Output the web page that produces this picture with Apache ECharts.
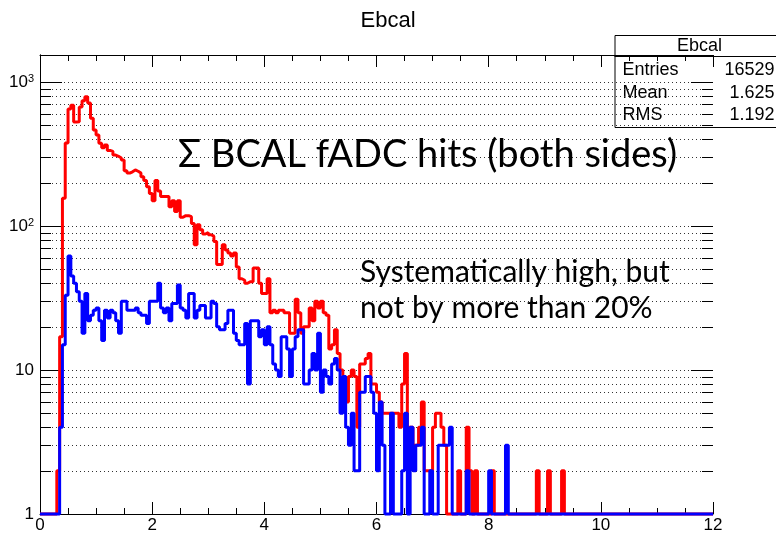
<!DOCTYPE html>
<html>
<head>
<meta charset="utf-8">
<script src="https://cdn.jsdelivr.net/npm/echarts@6/dist/echarts.min.js"></script>
<style>
  html, body { margin: 0; padding: 0; background: #fff; }
  #chart { width: 776px; height: 534px; }
</style>
</head>
<body>
<div id="chart"></div>
<script>
// histogram binning (0 .. 12, 240 bins); first filled bin starts at 0.30
var binStart = 0.30;
var binWidth = 0.05;
var xMax = 12;

// counts per bin, starting at binStart (red = data, blue = simulation)
var redCounts = [
  2, 17, 156, 377, 650, 690, 527, 530, 670, 740,
  790, 715, 560, 464, 428, 375, 350, 365, 335, 330,
  311, 305, 297, 287, 242, 233, 238, 245, 240, 233,
  220, 207, 187, 168, 150, 207, 175, 160, 160, 160,
  136, 150, 126, 150, 115, 118, 118, 116, 104, 74,
  102, 94, 88, 90, 87, 85, 78, 54, 54, 74,
  68, 65, 62, 65, 52, 43, 42, 40, 41, 41,
  51, 51, 40, 34, 34, 43, 25, 26, 25, 26,
  26, 25, 25, 18, 18, 31, 25, 18, 20, 20,
  27, 22, 30, 27, 30, 25, 24, 14, 15, 19,
  13, 10, 9, 6, 9, 10, 9, 4, 11, 11,
  12, 13, 8, 8, 7, 6, 5, 5, 5, 5,
  5, 5, 4, 8, 13, 4, 4, 3, 3, 4,
  6, 2, 2, 2, 4, 5, 5, 4, 3, 1,
  1, 0, 1, 2, 1, 1, 4, 2, 0, 2,
  1, 0, 1, 0, 1, 2, 0, 1, 0, 0,
  1, 0, 0, 1, 0, 0, 0, 1, 0, 0,
  0, 2, 0, 0, 1, 2, 0, 0, 0, 1,
  2
];
var blueCounts = [
  0, 4, 15, 33, 62, 45, 40, 35, 30, 18,
  34, 22, 24, 26, 27, 22, 16, 26, 23, 26,
  25, 22, 18, 30, 30, 26, 26, 26, 27, 25,
  24, 24, 21, 30, 30, 30, 40, 27, 25, 27,
  22, 29, 29, 39, 27, 26, 23, 34, 34, 23,
  26, 28, 28, 23, 23, 30, 29, 20, 19, 19,
  21, 26, 26, 18, 16, 15, 15, 21, 8, 22,
  22, 22, 17, 19, 15, 20, 15, 11, 10, 9,
  17, 17, 14, 9, 14, 17, 19, 19, 8, 8,
  10, 13, 10, 18, 7, 10, 9, 8, 11, 12,
  10, 5, 9, 4, 3, 5, 2, 2, 7, 7,
  9, 9, 7, 5, 2, 6, 3, 1, 0, 5,
  1, 0, 1, 2, 5, 0, 4, 2, 3, 3,
  4, 1, 0, 2, 1, 0, 3, 3, 3, 3,
  4, 0, 1, 0, 1, 0, 2, 0, 0, 0,
  0, 0, 0, 0, 2, 0, 0, 0, 0, 0,
  3
];

var xTicks = { min: 0, max: 12, interval: 2 };
var yDecades = [1, 10, 100, 1000];
var yMin = 1;
var yMax = 1540;

var statsTitle = 'Ebcal';
var statsRows = [
  ['Entries', '16529'],
  ['Mean', '1.625'],
  ['RMS', '1.192']
];

var noteMain = '\u03A3 BCAL fADC hits (both sides)';
var noteLines = ['Systematically high, but', 'not by more than 20%'];

// step points: left edge of each bin, empty bins sit on the frame bottom
function buildSteps(counts) {
  var pts = [[0, yMin]];
  for (var i = 0; i < counts.length; i++) {
    pts.push([+(binStart + i * binWidth).toFixed(3), Math.max(counts[i], yMin)]);
  }
  pts.push([+(binStart + counts.length * binWidth).toFixed(3), yMin]);
  pts.push([xMax, yMin]);
  return pts;
}

// dotted grid lines + frame ticks at 2..9 x 10^n
var gridValues = [];
yDecades.forEach(function (d) {
  for (var m = 1; m <= 9; m++) {
    var v = m * d;
    if (v > yMin && v <= yMax) gridValues.push([0, v]);
  }
});

function isPow10(v) {
  var e = Math.log10(v);
  return Math.abs(e - Math.round(e)) < 1e-6;
}

var font = '"Liberation Sans", Arial, sans-serif';
var noteFont = 'Lato, "Open Sans", "DejaVu Sans", sans-serif';

var chart = echarts.init(document.getElementById('chart'), null, { renderer: 'canvas' });

var xAxisBase = {
  type: 'value',
  min: xTicks.min,
  max: xTicks.max,
  interval: xTicks.interval,
  axisLine: { show: true, onZero: false, lineStyle: { color: '#000', width: 1 } },
  axisTick: { show: true, inside: true, length: 12, lineStyle: { color: '#000', width: 1 } },
  minorTick: { show: true, splitNumber: 4, length: 6, lineStyle: { color: '#000', width: 1 } },
  splitLine: { show: false },
  minorSplitLine: { show: false }
};

var yAxisBase = {
  type: 'log',
  logBase: 10,
  min: yMin,
  max: yMax,
  interval: 1,
  axisLine: { show: true, lineStyle: { color: '#000', width: 1 } },
  axisTick: { show: false },
  splitLine: { show: false }
};

var option = {
  animation: false,
  backgroundColor: '#fff',
  title: {
    text: 'Ebcal',
    left: 'center',
    top: 5,
    textStyle: { fontFamily: font, fontSize: 22, fontWeight: 'normal', color: '#000' }
  },
  grid: { left: 40, right: 63, top: 55, bottom: 20, containLabel: false },
  xAxis: [
    Object.assign({}, xAxisBase, {
      position: 'bottom',
      axisLabel: { show: true, color: '#000', fontFamily: font, fontSize: 17, margin: 3 }
    }),
    Object.assign({}, xAxisBase, {
      position: 'top',
      axisLabel: { show: false }
    })
  ],
  yAxis: [
    Object.assign({}, yAxisBase, {
      position: 'left',
      axisLabel: {
        show: true,
        color: '#000',
        fontFamily: font,
        fontSize: 17,
        margin: 6,
        formatter: function (v) {
          if (!isPow10(v)) return '';
          var n = Math.round(Math.log10(v));
          if (n === 0) return '1';
          if (n === 1) return '10';
          return '10{sup|' + n + '}';
        },
        rich: {
          sup: { fontSize: 11, fontFamily: font, color: '#000', verticalAlign: 'top', lineHeight: 11, padding: [0, 0, 6, 0] }
        }
      }
    }),
    Object.assign({}, yAxisBase, {
      position: 'right',
      axisLabel: { show: false }
    })
  ],
  series: [
    {
      type: 'custom',
      name: 'grid',
      xAxisIndex: 0,
      yAxisIndex: 0,
      clip: false,
      silent: true,
      z: 1,
      data: gridValues,
      renderItem: function (params, api) {
        var v = api.value(1);
        var l = api.coord([0, v]);
        var r = api.coord([xMax, v]);
        var y = Math.round(l[1]) + 0.5;
        var len = isPow10(v) ? 22 : 11;
        return {
          type: 'group',
          children: [
            { type: 'line', shape: { x1: l[0], y1: y, x2: r[0], y2: y },
              style: { stroke: '#333', lineWidth: 1, lineDash: [1, 3] } },
            { type: 'line', shape: { x1: l[0], y1: y, x2: l[0] + len, y2: y },
              style: { stroke: '#000', lineWidth: 1 } },
            { type: 'line', shape: { x1: r[0] - len, y1: y, x2: r[0], y2: y },
              style: { stroke: '#000', lineWidth: 1 } }
          ]
        };
      }
    },
    {
      type: 'line',
      name: 'data',
      step: 'end',
      showSymbol: false,
      symbol: 'none',
      clip: false,
      z: 3,
      data: buildSteps(redCounts),
      lineStyle: { color: '#ff0000', width: 3 }
    },
    {
      type: 'line',
      name: 'sim',
      step: 'end',
      showSymbol: false,
      symbol: 'none',
      clip: false,
      z: 4,
      data: buildSteps(blueCounts),
      lineStyle: { color: '#0000ff', width: 3 }
    }
  ],
  graphic: [
    {
      type: 'group',
      left: 612,
      top: 35,
      z: 100,
      children: [
        { type: 'rect', shape: { x: 0.5, y: 0.5, width: 175, height: 92 },
          style: { fill: '#fff', stroke: '#000', lineWidth: 1 } },
        { type: 'line', shape: { x1: 0, y1: 21.5, x2: 176, y2: 21.5 },
          style: { stroke: '#000', lineWidth: 1 } },
        { type: 'text', x: 85, y: 11.5,
          style: { text: statsTitle, fill: '#000', font: '18px ' + font, textAlign: 'center', textVerticalAlign: 'middle' } }
      ].concat(statsRows.reduce(function (acc, row, i) {
        var y = 35.5 + i * 22.5;
        acc.push({ type: 'text', x: 8, y: y,
          style: { text: row[0], fill: '#000', font: '18px ' + font, textAlign: 'left', textVerticalAlign: 'middle' } });
        acc.push({ type: 'text', x: 160, y: y,
          style: { text: row[1], fill: '#000', font: '18px ' + font, textAlign: 'right', textVerticalAlign: 'middle' } });
        return acc;
      }, []))
    },
    {
      type: 'text',
      x: 178,
      y: 155,
      z: 50,
      style: { text: noteMain, fill: '#000', font: '38px ' + noteFont, textVerticalAlign: 'middle' }
    },
    {
      type: 'text',
      x: 360,
      y: 272,
      z: 50,
      style: { text: noteLines[0], fill: '#000', font: '30px ' + noteFont, textVerticalAlign: 'middle' }
    },
    {
      type: 'text',
      x: 360,
      y: 308,
      z: 50,
      style: { text: noteLines[1], fill: '#000', font: '30px ' + noteFont, textVerticalAlign: 'middle' }
    }
  ]
};

chart.setOption(option);
</script>
</body>
</html>
